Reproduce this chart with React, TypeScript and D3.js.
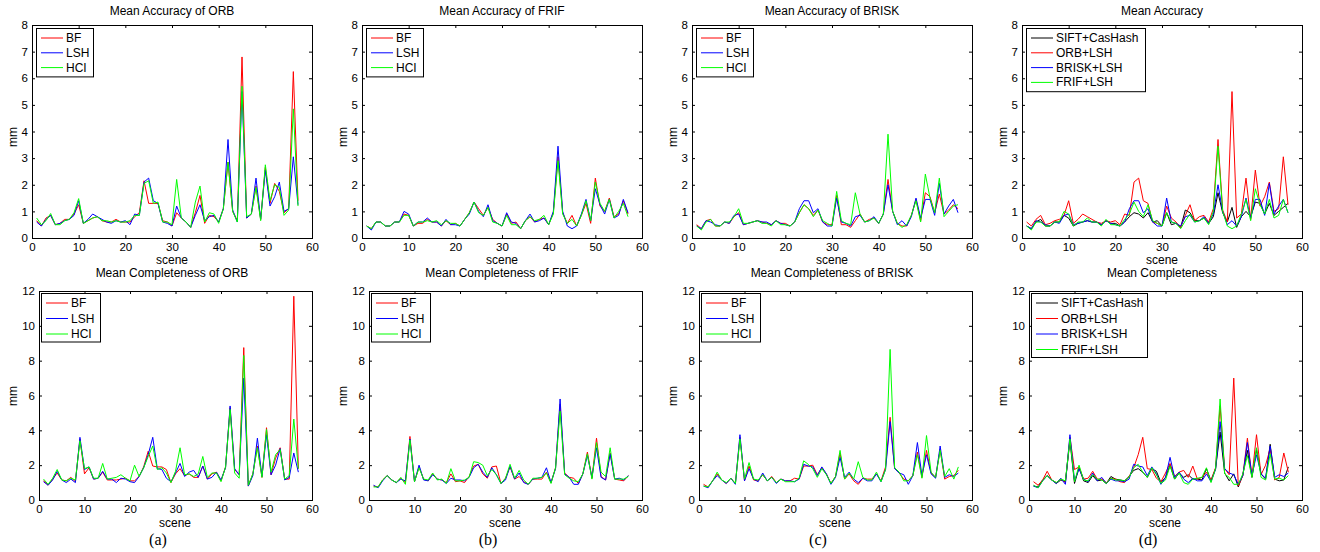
import React, { useEffect, useRef } from 'react';
import * as d3 from 'd3';

// scene index 1..57
const scenes = d3.range(1, 58);

// ---- Mean Accuracy (top row) ----
const orbAccBF = [0.65,0.45,0.75,0.85,0.5,0.55,0.7,0.7,0.9,1.25, 0.55,0.65,0.75,0.8,0.65,0.6,0.6,0.7,0.6,0.6, 0.6,0.8,0.95,2.15,1.3,1.3,1.3,0.65,0.6,0.45, 0.95,0.75,0.6,0.4,0.95,1.6,0.55,0.85,0.8,0.6, 1.1,2.85,1.0,0.65,6.8,0.75,0.9,1.95,0.7,2.65, 1.3,2.05,1.75,0.95,1.1,6.25,1.4];
const orbAccLSH = [0.6,0.45,0.7,0.85,0.5,0.55,0.65,0.7,0.85,1.4, 0.55,0.7,0.9,0.8,0.7,0.6,0.55,0.65,0.6,0.65, 0.5,0.9,0.85,2.1,2.25,1.4,1.3,0.6,0.55,0.45, 1.2,0.75,0.6,0.4,0.85,1.25,0.65,0.8,0.85,0.6, 1.1,3.7,1.05,0.6,5.5,0.75,0.9,2.25,0.7,2.55, 1.2,1.55,2.1,1.0,1.1,3.05,1.25];
const orbAccHCI = [0.75,0.5,0.65,0.92,0.5,0.5,0.65,0.7,0.95,1.48, 0.55,0.65,0.75,0.8,0.65,0.65,0.6,0.65,0.6,0.6, 0.65,0.85,0.85,2.05,2.15,1.3,1.35,0.6,0.6,0.5, 2.2,0.75,0.6,0.4,1.35,1.95,0.6,0.95,0.9,0.55, 1.1,2.85,1.0,0.6,5.7,0.8,0.9,1.9,0.65,2.75, 1.4,2.0,1.9,0.85,1.05,4.85,1.2];

const frifAccBF = [0.45,0.35,0.6,0.6,0.45,0.45,0.6,0.6,0.9,0.85, 0.45,0.55,0.55,0.7,0.6,0.6,0.45,0.65,0.5,0.55, 0.45,0.7,0.95,1.35,1.1,0.85,1.15,0.7,0.55,0.45, 0.9,0.55,0.6,0.35,0.65,0.8,0.6,0.7,0.75,0.5, 0.95,3.05,0.95,0.55,0.85,0.45,0.85,1.3,0.55,2.25, 1.2,1.0,1.5,0.8,0.9,1.4,0.9];
const frifAccLSH = [0.45,0.3,0.6,0.6,0.45,0.45,0.6,0.6,1.0,0.9, 0.45,0.6,0.6,0.75,0.6,0.6,0.45,0.7,0.5,0.5, 0.45,0.7,0.9,1.35,1.0,0.8,1.25,0.65,0.55,0.45, 0.95,0.6,0.55,0.35,0.65,0.9,0.6,0.65,0.75,0.5, 1.0,3.45,1.0,0.45,0.35,0.45,0.9,1.45,0.65,1.85, 1.25,0.9,1.45,0.75,0.85,1.45,0.95];
const frifAccHCI = [0.45,0.35,0.6,0.6,0.45,0.45,0.6,0.6,0.85,0.85, 0.45,0.6,0.6,0.65,0.6,0.65,0.5,0.65,0.55,0.55, 0.45,0.7,0.95,1.35,0.95,0.85,1.15,0.6,0.55,0.45, 0.85,0.5,0.5,0.35,0.65,0.8,0.65,0.7,0.85,0.5, 0.9,2.9,0.9,0.55,0.7,0.45,0.85,1.4,0.65,2.1, 1.3,1.0,1.45,0.75,1.0,1.3,0.8];

const briskAccBF = [0.5,0.35,0.65,0.7,0.45,0.45,0.6,0.55,0.8,0.95, 0.5,0.55,0.6,0.65,0.6,0.55,0.5,0.65,0.55,0.55, 0.45,0.6,0.95,1.25,1.1,0.85,1.05,0.6,0.5,0.5, 1.6,0.5,0.5,0.4,0.65,0.9,0.6,0.7,0.75,0.55, 0.9,2.2,1.0,0.55,0.45,0.45,0.85,1.45,0.65,1.7, 1.55,0.95,1.65,0.9,1.05,1.25,1.1];
const briskAccLSH = [0.45,0.35,0.65,0.6,0.5,0.45,0.6,0.55,0.85,0.9, 0.5,0.55,0.6,0.65,0.6,0.6,0.5,0.65,0.55,0.5, 0.45,0.6,1.1,1.4,1.4,0.95,1.1,0.6,0.45,0.45, 1.5,0.6,0.55,0.45,0.8,0.85,0.6,0.65,0.8,0.55, 0.9,2.0,1.0,0.5,0.65,0.45,0.8,1.5,0.75,1.45, 1.45,0.85,2.05,0.9,1.2,1.45,0.95];
const briskAccHCI = [0.45,0.3,0.6,0.7,0.45,0.45,0.6,0.6,0.8,1.1, 0.55,0.55,0.6,0.65,0.55,0.55,0.45,0.65,0.5,0.5, 0.45,0.6,0.95,1.25,1.1,0.8,1.05,0.65,0.55,0.45, 1.75,0.65,0.55,0.5,1.7,0.9,0.6,0.65,0.75,0.55, 0.9,3.9,1.0,0.55,0.4,0.5,0.85,1.4,0.6,2.4, 1.5,0.95,2.25,0.8,1.0,1.2,1.25];

const siftAcc = [0.45,0.35,0.6,0.7,0.45,0.45,0.6,0.6,0.85,0.75, 0.45,0.55,0.6,0.65,0.6,0.6,0.5,0.65,0.55,0.55, 0.45,0.6,0.8,0.95,0.9,0.75,0.95,0.6,0.65,0.45, 0.95,0.5,0.55,0.4,1.05,0.95,0.65,0.65,0.75,0.55, 0.8,1.7,0.95,0.6,1.15,0.4,0.8,1.0,0.8,1.35, 1.3,0.9,1.3,0.85,1.0,1.15,1.3];

// ---- Mean Completeness (bottom row) ----
const orbCompBF = [1.1,0.85,1.2,1.55,1.15,1.1,1.3,1.05,3.5,1.5, 1.85,1.2,1.25,1.6,1.15,1.15,1.15,1.2,1.25,1.1, 1.1,1.35,1.9,2.8,1.95,1.9,1.9,1.75,1.0,1.5, 1.8,1.4,1.5,1.3,1.3,1.95,1.2,1.5,1.6,1.1, 1.9,5.3,1.75,1.45,8.75,0.8,1.5,3.1,1.3,4.15, 1.45,2.4,3.0,1.2,1.2,11.7,1.8];
const orbCompLSH = [1.05,0.85,1.15,1.65,1.15,1.0,1.2,1.0,3.6,1.75, 1.9,1.2,1.25,1.65,1.2,1.2,1.0,1.25,1.2,1.05, 1.0,1.35,1.85,2.6,3.6,1.8,1.75,1.25,1.05,1.55, 2.1,1.35,1.6,1.7,1.3,1.95,1.2,1.3,1.6,1.15, 1.85,5.4,1.8,1.45,7.0,0.8,1.4,3.55,1.35,3.75, 1.45,2.0,2.95,1.15,1.3,2.7,1.6];
const orbCompHCI = [1.2,0.9,1.25,1.75,1.15,1.1,1.25,1.15,3.4,1.8, 1.9,1.25,1.25,2.1,1.2,1.25,1.3,1.45,1.25,1.1, 2.0,1.35,1.85,2.5,3.1,1.75,1.85,1.55,1.0,1.65, 3.0,1.45,1.5,1.35,1.5,2.5,1.3,1.55,1.55,1.05, 1.9,5.2,1.55,1.25,8.3,0.85,1.5,3.0,1.3,4.05, 1.6,2.6,2.9,1.2,1.4,4.65,1.8];

const frifCompBF = [0.8,0.75,1.15,1.4,1.15,1.0,1.25,1.0,3.65,1.05, 1.9,1.2,1.1,1.5,1.2,1.15,1.0,1.5,1.05,1.1, 1.0,1.35,1.95,2.05,1.5,1.25,1.9,1.95,0.95,1.25, 1.9,1.2,1.35,1.05,0.9,1.2,1.2,1.2,1.6,1.0, 1.85,5.5,1.55,1.3,1.25,0.95,1.5,2.75,1.25,3.55, 1.35,1.15,2.7,1.2,1.15,1.1,1.4];
const frifCompLSH = [0.85,0.7,1.1,1.4,1.15,1.0,1.2,1.1,3.5,1.05, 2.0,1.15,1.1,1.45,1.2,1.15,0.95,1.25,1.15,1.15, 1.1,1.3,1.85,2.05,1.6,1.3,1.85,1.45,0.95,1.15, 1.95,1.2,1.55,1.0,0.9,1.2,1.25,1.3,1.85,1.0, 1.8,5.8,1.5,1.3,0.9,0.9,1.5,2.55,1.3,3.0, 1.3,1.15,2.65,1.2,1.25,1.15,1.4];
const frifCompHCI = [0.75,0.75,1.15,1.4,1.15,1.0,1.3,0.9,3.45,1.05, 1.85,1.2,1.15,1.55,1.15,1.2,0.95,1.8,1.1,1.1, 1.15,1.3,2.2,2.15,2.0,1.4,1.75,1.45,0.95,1.25, 2.05,1.25,1.7,1.15,0.9,1.25,1.25,1.3,1.55,0.95, 1.85,5.1,1.45,1.25,1.1,1.05,1.5,2.65,1.2,3.3, 1.6,1.35,3.0,1.2,1.2,1.2,1.35];

const briskCompBF = [0.9,0.75,1.1,1.5,1.15,0.95,1.25,0.95,3.6,1.1, 1.95,1.15,1.1,1.45,1.1,1.35,1.0,1.2,1.1,1.1, 1.25,1.2,1.95,1.95,2.0,1.45,1.85,1.5,0.95,1.35, 2.7,1.2,1.5,1.1,0.9,1.25,1.2,1.2,1.5,1.1, 1.9,4.75,1.8,1.55,1.2,1.1,1.4,2.75,1.3,2.85, 1.55,1.3,2.9,1.2,1.35,1.4,1.7];
const briskCompLSH = [0.8,0.7,1.1,1.4,1.15,0.95,1.25,0.9,3.75,1.1, 1.8,1.2,1.05,1.55,1.1,1.3,0.95,1.2,1.1,1.1, 1.05,1.2,2.05,1.95,1.9,1.4,1.9,1.5,0.9,1.3, 2.45,1.3,1.6,1.2,1.0,1.25,1.1,1.1,1.5,1.05, 1.75,4.5,1.8,1.55,1.45,0.9,1.4,3.3,1.4,2.6, 1.5,1.25,3.1,1.3,1.45,1.35,1.55];
const briskCompHCI = [0.8,0.75,1.1,1.6,1.15,1.0,1.25,0.95,3.5,1.2, 2.15,1.2,1.15,1.45,1.1,1.3,1.0,1.2,1.05,1.05, 1.05,1.25,2.25,2.05,1.8,1.3,1.8,1.45,0.95,1.35, 2.85,1.2,1.55,1.2,2.2,1.3,1.15,1.15,1.6,1.05, 1.75,8.65,1.85,1.6,1.1,1.1,1.4,2.6,1.25,3.7, 1.6,1.3,2.85,1.35,1.8,1.2,1.9];

const siftComp = [0.8,0.75,1.15,1.4,1.15,0.95,1.15,1.05,3.4,0.95, 1.85,1.1,1.0,1.4,1.1,1.15,0.95,1.35,1.2,1.15, 1.1,1.35,1.7,1.8,1.6,1.3,1.8,1.65,1.0,1.3, 2.0,1.2,1.55,1.3,1.45,1.2,1.2,1.15,1.8,1.1, 1.8,3.9,1.55,1.1,1.5,0.75,1.45,2.85,1.3,2.9, 1.5,1.2,3.2,1.2,1.1,1.15,1.9];

const RED = '#ff0000';
const BLUE = '#0000ff';
const GREEN = '#00ff00';
const BLACK = '#000000';

const matcher = (bf, lsh, hci) => [
  { name: 'BF', values: bf, color: RED },
  { name: 'LSH', values: lsh, color: BLUE },
  { name: 'HCI', values: hci, color: GREEN },
];

const panels = [
  { title: 'Mean Accuracy of ORB', series: matcher(orbAccBF, orbAccLSH, orbAccHCI) },
  { title: 'Mean Accuracy of FRIF', series: matcher(frifAccBF, frifAccLSH, frifAccHCI) },
  { title: 'Mean Accuracy of BRISK', series: matcher(briskAccBF, briskAccLSH, briskAccHCI) },
  {
    title: 'Mean Accuracy',
    series: [
      { name: 'SIFT+CasHash', values: siftAcc, color: BLACK },
      { name: 'ORB+LSH', values: orbAccLSH, color: RED },
      { name: 'BRISK+LSH', values: briskAccLSH, color: BLUE },
      { name: 'FRIF+LSH', values: frifAccLSH, color: GREEN },
    ],
  },
  { title: 'Mean Completeness of ORB', series: matcher(orbCompBF, orbCompLSH, orbCompHCI), label: '(a)' },
  { title: 'Mean Completeness of FRIF', series: matcher(frifCompBF, frifCompLSH, frifCompHCI), label: '(b)' },
  { title: 'Mean Completeness of BRISK', series: matcher(briskCompBF, briskCompLSH, briskCompHCI), label: '(c)' },
  {
    title: 'Mean Completeness',
    label: '(d)',
    series: [
      { name: 'SIFT+CasHash', values: siftComp, color: BLACK },
      { name: 'ORB+LSH', values: orbCompLSH, color: RED },
      { name: 'BRISK+LSH', values: briskCompLSH, color: BLUE },
      { name: 'FRIF+LSH', values: frifCompLSH, color: GREEN },
    ],
  },
];

const FONT = '"Liberation Sans", Arial, Helvetica, sans-serif';

const App = () => {
  const svgRef = useRef<SVGSVGElement>(null);

  useEffect(() => {
    const svg = d3.select(svgRef.current);
    svg.selectAll('*').remove();

    panels.forEach((p, i) => {
      const col = i % 4;
      const row = Math.floor(i / 4);
      const ox = col * 330;
      const left = ox + (row ? 39 : 32);
      const right = ox + 312;
      const top = row ? 291 : 25;
      const bottom = row ? 500 : 238;
      const yMax = row ? 12 : 8;
      const yStep = row ? 2 : 1;

      const x = d3.scaleLinear().domain([0, 60]).range([left, right]);
      const y = d3.scaleLinear().domain([0, yMax]).range([bottom, top]);
      const yTicks = d3.range(0, yMax + 0.001, yStep);
      const xTicks = d3.range(0, 61, 10);

      const g = svg.append('g');

      // white plot background
      g.append('rect')
        .attr('x', left).attr('y', top)
        .attr('width', right - left).attr('height', bottom - top)
        .attr('fill', 'white');

      const styleAxis = (sel) => {
        sel.select('.domain').remove();
        sel.selectAll('.tick line').attr('stroke', '#000');
        sel.selectAll('.tick text')
          .attr('fill', '#000')
          .style('font-family', FONT)
          .style('font-size', '11.5px');
      };

      // bottom / left axes with inward ticks
      g.append('g')
        .attr('transform', `translate(0,${bottom})`)
        .call(d3.axisBottom(x).tickValues(xTicks).tickSize(-3).tickSizeOuter(0).tickPadding(5).tickFormat(d3.format('d')))
        .call(styleAxis);
      g.append('g')
        .attr('transform', `translate(${left},0)`)
        .call(d3.axisLeft(y).tickValues(yTicks).tickSize(-3).tickSizeOuter(0).tickPadding(4).tickFormat(d3.format('d')))
        .call(styleAxis);
      // mirrored ticks on top / right
      g.append('g')
        .attr('transform', `translate(0,${top})`)
        .call(d3.axisTop(x).tickValues(xTicks).tickSize(-3).tickSizeOuter(0).tickFormat(() => ''))
        .call(styleAxis);
      g.append('g')
        .attr('transform', `translate(${right},0)`)
        .call(d3.axisRight(y).tickValues(yTicks).tickSize(-3).tickSizeOuter(0).tickFormat(() => ''))
        .call(styleAxis);

      // lines
      const line = d3.line<number>()
        .x((_, k) => x(scenes[k]))
        .y((d) => y(d));
      p.series.forEach((s) => {
        g.append('path')
          .datum(s.values)
          .attr('fill', 'none')
          .attr('stroke', s.color)
          .attr('stroke-width', 1)
          .attr('stroke-linejoin', 'miter')
          .attr('d', line);
      });

      // box
      g.append('rect')
        .attr('x', left + 0.5).attr('y', top + 0.5)
        .attr('width', right - left).attr('height', bottom - top)
        .attr('fill', 'none')
        .attr('stroke', '#000')
        .attr('stroke-width', 1);

      // title
      g.append('text')
        .attr('x', (ox + 32 + right) / 2)
        .attr('y', row ? 277 : 15)
        .attr('text-anchor', 'middle')
        .style('font-family', FONT)
        .style('font-size', '12px')
        .text(p.title);

      // axis labels
      g.append('text')
        .attr('x', (ox + 32 + right) / 2 - (row ? -3 : 0))
        .attr('y', row ? 527 : 264)
        .attr('text-anchor', 'middle')
        .style('font-family', FONT)
        .style('font-size', '12px')
        .text('scene');
      g.append('text')
        .attr('transform', `translate(${ox + 17},${row ? 396 : 137}) rotate(-90)`)
        .attr('text-anchor', 'middle')
        .style('font-family', FONT)
        .style('font-size', '12px')
        .text('mm');

      // legend
      const n = p.series.length;
      const wide = n === 4;
      const bx = ox + (row ? 41 : 36);
      const by = top + (row ? 2 : 3);
      const rowH = row ? 15.5 : 14.8;
      const bw = wide ? (row ? 116 : 119) : (row ? 59 : 57);
      const bh = n * rowH + (row ? 2 : 4);
      const lg = g.append('g');
      lg.append('rect')
        .attr('x', bx + 0.5).attr('y', by + 0.5)
        .attr('width', bw).attr('height', bh)
        .attr('fill', 'white')
        .attr('stroke', '#000')
        .attr('stroke-width', 1);
      p.series.forEach((s, k) => {
        const cy = by + 10 + k * rowH;
        lg.append('line')
          .attr('x1', bx + 5).attr('x2', bx + 27)
          .attr('y1', cy).attr('y2', cy)
          .attr('stroke', s.color)
          .attr('stroke-width', 1);
        lg.append('text')
          .attr('x', bx + 30)
          .attr('y', cy + 4)
          .style('font-family', FONT)
          .style('font-size', '12px')
          .text(s.name);
      });

      if (p.label) {
        g.append('text')
          .attr('x', ox + 158)
          .attr('y', 545)
          .attr('text-anchor', 'middle')
          .style('font-family', '"Liberation Serif", "Times New Roman", serif')
          .style('font-size', '16px')
          .text(p.label);
      }
    });
  }, []);

  return (
    <svg
      ref={svgRef}
      width={1320}
      height={552}
      style={{ position: 'absolute', left: 0, top: 0, background: 'white' }}
    />
  );
};

export default App;
